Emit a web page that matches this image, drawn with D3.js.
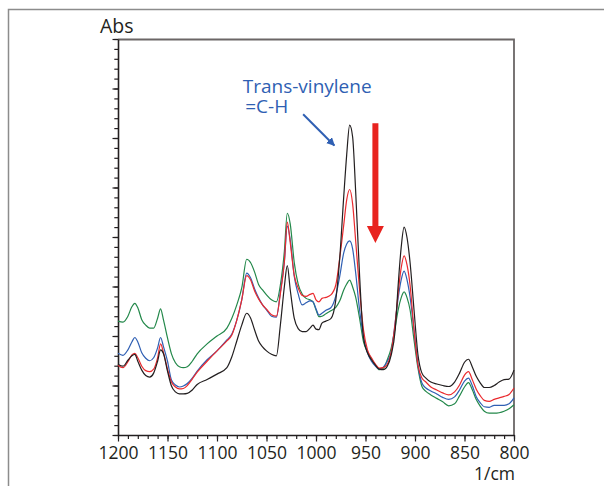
<!DOCTYPE html>
<html>
<head>
<meta charset="utf-8">
<script src="https://cdn.jsdelivr.net/npm/d3@7"></script>
<style>
  body { margin: 0; background: #fff; }
  svg { display: block; }
  text { font-family: "Open Sans", "Noto Sans", sans-serif; }
</style>
</head>
<body>
<div id="chart"></div>
<script>
// wavenumber grid (1/cm), shared by all spectra
const wavenumbers = [1200,1195,1190,1186,1183,1180,1176,1172,1168,1164,
  1160,1157,1154,1150,1146,1142,1138,1134,1130,1125,
  1120,1110,1100,1090,1085,1080,1075,1070,1066,1062,
  1058,1054,1050,1045,1040,1036,1032,1029,1026,1022,
  1018,1014,1010,1006,1003,1000,997,994,990,985,
  980,976,972,969,966,963,960,956,952,948,
  944,940,936,932,928,924,920,917,914,911,
  908,905,901,897,893,889,884,878,872,866,
  860,855,850,846,842,838,834,830,825,820,
  815,810,805,800];

const absBlack = [0.143,0.139,0.151,0.160,0.163,0.149,0.131,0.120,0.117,0.125,
  0.149,0.172,0.164,0.129,0.099,0.087,0.083,0.083,0.084,0.091,
  0.102,0.112,0.123,0.136,0.158,0.190,0.222,0.246,0.236,0.212,
  0.190,0.178,0.170,0.163,0.160,0.222,0.299,0.342,0.293,0.236,
  0.215,0.209,0.209,0.216,0.222,0.214,0.213,0.226,0.230,0.235,
  0.273,0.358,0.481,0.566,0.626,0.602,0.495,0.323,0.196,0.166,
  0.152,0.141,0.133,0.132,0.139,0.162,0.212,0.303,0.378,0.420,
  0.398,0.349,0.253,0.162,0.125,0.115,0.107,0.103,0.100,0.098,
  0.107,0.125,0.147,0.153,0.137,0.118,0.105,0.096,0.096,0.100,
  0.107,0.112,0.113,0.131];

const absRed = [0.141,0.136,0.148,0.162,0.165,0.156,0.139,0.130,0.128,0.133,
  0.156,0.184,0.166,0.133,0.107,0.097,0.093,0.094,0.100,0.113,
  0.127,0.149,0.170,0.190,0.202,0.232,0.273,0.322,0.313,0.291,
  0.275,0.263,0.254,0.243,0.240,0.285,0.349,0.430,0.388,0.323,
  0.297,0.282,0.280,0.284,0.286,0.273,0.269,0.276,0.278,0.283,
  0.303,0.358,0.424,0.475,0.496,0.467,0.394,0.293,0.212,0.172,
  0.156,0.143,0.135,0.136,0.143,0.168,0.226,0.287,0.337,0.362,
  0.343,0.303,0.212,0.141,0.115,0.107,0.097,0.091,0.085,0.081,
  0.087,0.101,0.121,0.128,0.111,0.092,0.079,0.070,0.068,0.072,
  0.075,0.078,0.082,0.095];

const absBlue = [0.165,0.161,0.172,0.188,0.197,0.188,0.166,0.155,0.150,0.156,
  0.176,0.197,0.178,0.149,0.111,0.101,0.097,0.099,0.104,0.115,
  0.129,0.152,0.170,0.192,0.204,0.232,0.273,0.327,0.317,0.295,
  0.277,0.263,0.253,0.240,0.238,0.289,0.349,0.422,0.394,0.321,
  0.285,0.263,0.267,0.271,0.269,0.255,0.242,0.246,0.252,0.257,
  0.281,0.321,0.368,0.386,0.392,0.376,0.329,0.253,0.198,0.166,
  0.149,0.139,0.133,0.137,0.149,0.168,0.228,0.277,0.313,0.331,
  0.313,0.279,0.212,0.141,0.105,0.095,0.089,0.083,0.076,0.072,
  0.077,0.091,0.109,0.115,0.099,0.077,0.065,0.057,0.056,0.060,
  0.060,0.060,0.063,0.075];

const absGreen = [0.230,0.228,0.240,0.259,0.266,0.257,0.233,0.222,0.216,0.216,
  0.236,0.255,0.232,0.196,0.164,0.146,0.138,0.136,0.138,0.149,
  0.164,0.184,0.200,0.216,0.236,0.263,0.297,0.355,0.348,0.329,
  0.304,0.293,0.283,0.273,0.269,0.303,0.370,0.448,0.426,0.349,
  0.305,0.285,0.276,0.273,0.269,0.253,0.239,0.240,0.245,0.251,
  0.258,0.271,0.293,0.305,0.313,0.299,0.279,0.236,0.188,0.168,
  0.154,0.141,0.132,0.135,0.152,0.176,0.218,0.253,0.277,0.289,
  0.277,0.253,0.192,0.135,0.098,0.088,0.081,0.074,0.067,0.059,
  0.063,0.079,0.097,0.106,0.091,0.071,0.058,0.048,0.044,0.044,
  0.045,0.048,0.053,0.061];

const xMajorTicks = [1200,1150,1100,1050,1000,950,900,850,800];

// drawing order: green underneath, black on top
const series = [
  { name: "green", color: "#23884a", values: absGreen },
  { name: "blue",  color: "#2f5fb3", values: absBlue },
  { name: "red",   color: "#ea2a2e", values: absRed },
  { name: "black", color: "#231f20", values: absBlack }
];

// Chart dimensions
const W = 604, H = 486;
const margin = { top: 39, left: 118 };
const width = 396, height = 396;

const svgRoot = d3.select("#chart").append("svg")
  .attr("width", W)
  .attr("height", H);

// outer frame (only top and left edges are inside the picture)
svgRoot.append("path")
  .attr("d", `M8.5,${H} V9.5 H${W}`)
  .attr("fill", "none")
  .attr("stroke", "#8c8c8c")
  .attr("stroke-width", 1.5);

const svg = svgRoot.append("g")
  .attr("transform", `translate(${margin.left},${margin.top})`);

// Scales
const x = d3.scaleLinear().domain([1200, 800]).range([0, width]);
const y = d3.scaleLinear().domain([0, 0.8]).range([height, 0]);

// top and right border of the plot
svg.append("path")
  .attr("d", `M0,0.5 H${width} V${height}`)
  .attr("fill", "none")
  .attr("stroke", "#6b6666")
  .attr("stroke-width", 1.8);

// Axes: minor ticks first, then major ticks with labels
svg.append("g")
  .attr("transform", `translate(0,${height})`)
  .call(d3.axisBottom(x).tickValues(d3.range(0, 41).map(i => 1200 - i * 10))
    .tickSize(4).tickSizeOuter(0).tickFormat(""))
  .call(g => g.select(".domain").remove());

const xAxis = svg.append("g")
  .attr("transform", `translate(0,${height})`)
  .call(d3.axisBottom(x).tickValues(xMajorTicks)
    .tickSize(6.5).tickSizeOuter(0).tickPadding(5.5).tickFormat(d3.format("d")));
xAxis.selectAll("text")
  .attr("font-size", "17.5px")
  .attr("font-family", "'Open Sans', sans-serif")
  .attr("fill", "#231f20");

svg.append("g")
  .call(d3.axisLeft(y).tickValues(d3.range(0, 41).map(i => i * 0.02))
    .tickSize(3.7).tickSizeOuter(0).tickFormat(""))
  .call(g => g.select(".domain").remove());

svg.append("g")
  .call(d3.axisLeft(y).tickValues(d3.range(0, 9).map(i => i * 0.1))
    .tickSize(5.5).tickSizeOuter(0).tickFormat(""));

svg.selectAll(".tick line").attr("stroke", "#231f20").attr("stroke-width", 1.2);
svg.selectAll(".domain").attr("stroke", "#231f20").attr("stroke-width", 1.6);

// Axis titles
svgRoot.append("text")
  .attr("x", 100).attr("y", 33)
  .attr("font-size", "19.5px")
  .attr("fill", "#231f20")
  .text("Abs");

svgRoot.append("text")
  .attr("x", margin.left + width + 1).attr("y", 480)
  .attr("text-anchor", "end")
  .attr("font-size", "17.5px")
  .attr("fill", "#231f20")
  .text("1/cm");

// Spectra
const line = d3.line()
  .x((d, i) => x(wavenumbers[i]))
  .y(d => y(d))
  .curve(d3.curveMonotoneX);

svg.selectAll(".spectrum")
  .data(series)
  .join("path")
  .attr("class", "spectrum")
  .attr("fill", "none")
  .attr("stroke", d => d.color)
  .attr("stroke-width", 1.2)
  .attr("stroke-linejoin", "round")
  .attr("d", d => line(d.values));

// Annotation: label + blue arrow pointing at the 965 peak
const defs = svgRoot.append("defs");
defs.append("marker")
  .attr("id", "blueHead")
  .attr("viewBox", "0 0 10 10")
  .attr("refX", 9).attr("refY", 5)
  .attr("markerWidth", 4.2).attr("markerHeight", 4.2)
  .attr("markerUnits", "strokeWidth")
  .attr("orient", "auto")
  .append("path")
  .attr("d", "M0,0 L10,5 L0,10 Z")
  .attr("fill", "#2f5fb3");

const labelColor = "#2f5fb3";
const label = svg.append("text")
  .attr("font-size", "19px")
  .attr("fill", labelColor);
label.append("tspan")
  .attr("x", x(1074)).attr("y", y(0.690))
  .text("Trans-vinylene");
label.append("tspan")
  .attr("x", x(1071.5)).attr("y", y(0.650))
  .text("=C-H");

svg.append("line")
  .attr("x1", x(1013)).attr("y1", y(0.648))
  .attr("x2", x(981.5)).attr("y2", y(0.585))
  .attr("stroke", labelColor)
  .attr("stroke-width", 2)
  .attr("marker-end", "url(#blueHead)");

// Red arrow: intensity decreasing
const ax = x(940);
const yTop = y(0.630), yBase = y(0.422), yTip = y(0.388);
svg.append("path")
  .attr("d", `M${ax - 3},${yTop} H${ax + 3} V${yBase} H${ax + 8.5} L${ax},${yTip} L${ax - 8.5},${yBase} H${ax - 3} Z`)
  .attr("fill", "#e8231f");
</script>
</body>
</html>
